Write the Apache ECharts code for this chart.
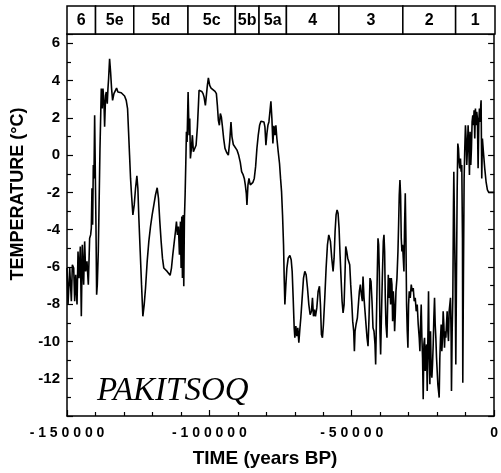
<!DOCTYPE html>
<html>
<head>
<meta charset="utf-8">
<script src="https://cdn.jsdelivr.net/npm/echarts@6/dist/echarts.min.js"></script>
<style>html,body{margin:0;padding:0;background:#fff}#c{width:501px;height:473px}</style>
</head>
<body>
<div id="c"></div>
<script>
// Time (years BP, negative) and temperature (°C)
const years = [
-150000,-149640,-149050,-148470,-148120,-147650,-147300,-146950,-146480,-146130,-145780,-145320,-144970,-144620,-144150,-143800,-143450,-142980,-142510,-142050,-141700,-141460,-141230,-141000,-140760,-140530,-140290,-140060,-139830,-139590,-139360,-139010,-138660,-138420,-138190,-137960,-137610,-137370,-137020,-136790,-136440,-136210,-135860,-135620,-135390,-135040,-134690,-134340,-133990,-133520,-133050,-132590,-132120,-131540,-130950,-130370,-129780,-129200,-128730,-128380,-128030,-127680,-127330,-126860,-126390,-125930,-125460,-125110,-124760,-124290,-123820,-123360,-122890,-122420,-121840,-121260,-120670,-120090,-119500,-118920,-118330,-117870,-117400,-116940,-116470,-116000,-115420,-114830,-114250,-113780,-113310,-112850,-112380,-111910,-111560,-111210,-110860,-110510,-110160,-109930,-109690,-109460,-109220,-108990,-108760,-108520,-108290,-108060,-107830,-107470,-107120,-106890,-106660,-106310,-105960,-105610,-105250,
-104670,-104200,-103850,-103620,-103150,-102680,-102220,-101870,-101400,-101050,-100700,-100350,-99880,-99410,-98710,-98010,-97540,-97190,-96840,-96490,-96140,-95790,-95440,-94980,-94510,-93920,-93340,-92870,-92410,-92060,-91590,-91000,-90300,-89720,-89140,-88670,-88200,-87730,-87380,-87030,-86800,-86450,-86100,-85630,-85160,-84700,-84230,-83760,-83300,-82830,-82360,-81890,-81310,-80840,-80490,-80140,-79790,-79440,-79090,-78740,-78390,-78040,-77690,-77340,-76990,-76640,-76290,-75820,-75360,-75000,-74650,-74300,-73950,-73720,-73480,-73130,-72780,-72320,-71730,-71270,-70920,-70570,-70210,-69980,-69630,-69280,-68930,-68580,-68230,-67880,-67410,-66940,-66480,-66010,-65540,-65070,-64610,-64140,-63790,-63440,-63090,-62740,-62270,-61800,-61340,-60990,-60640,-60290,-59940,-59470,-59000,-58530,-58070,
-57480,-57020,-56550,-56200,-55850,-55500,-55150,-54800,-54450,-54100,-53750,-53390,-53040,-52690,-52340,-52110,-51760,-51410,-51060,-50710,-50360,-50010,-49660,-49310,-49070,-48840,-48490,-48020,-47670,-47320,-46970,-46620,-46270,-46040,-45690,-45340,-44990,-44630,-44280,-43930,-43580,-43230,-42880,-42530,-42180,-41830,-41600,-41360,-41010,-40780,-40550,-40310,-40080,-39850,-39610,-39260,-38910,-38680,-38450,-38210,-37980,-37630,-37390,-37160,-36930,-36690,-36340,-36110,-35880,-35640,-35410,-35170,-34940,-34710,-34470,-34120,-33770,-33540,-33310,-33070,-32840,-32610,-32370,-32140,-31900,-31670,-31440,-31200,-30970,-30740,-30500,-30270,-30040,-29800,-29450,-29100,-28750,-28400,-28050,-27700,-27350,-27000,-26650,-26300,-26060,-25830,-25600,-25360,-25130,-24900,-24660,-24430,-24190,-23960,-23730,-23490,-23260,-23030,-22790,-22560,-22330,-22090,-21860,-21630,-21390,-21160,-20920,-20690,-20460,-20220,-19990,-19760,-19520,-19290,-19060,-18820,-18590,-18360,-18120,-17890,-17650,-17420,-17190,-16950,-16720,-16490,-16250,-16020,-15790,-15550,-15320,-15090,-14970,-14730,-14500,-14270,-14150,-13920,-13680,-13450,-13220,-12980,-12750,-12520,-12280,-12050,-11810,-11580,-11350,-11110,-11000,-10760,-10530,-10300,-10060,-9830,-9600,-9360,-9130,-8890,-8660,-8430,-8190,-7960,-7730,-7490,-7260,-7030,-6790,-6560,-6330,-6090,-5860,-5620,-5390,-5160,-4920,-4690,-4570,-4340,-4110,-3760,-3290,-2820,-2350,-1890,-950,0
];
const temps = [
-6.06,-8.02,-6.06,-7.84,-5.88,-6.06,-7.84,-6.42,-8.02,-5.17,-6.60,-4.90,-8.65,-4.81,-6.95,-4.63,-6.24,-5.70,-6.95,-4.46,-4.28,-3.92,-1.78,-3.74,-0.53,-1.25,2.14,-0.89,-3.74,-7.49,-6.95,-5.17,-1.96,0.36,1.96,3.57,2.50,3.57,2.85,1.52,3.21,3.39,2.76,3.57,4.10,5.17,4.46,3.57,2.94,3.30,3.39,3.60,3.39,3.30,3.35,3.30,3.17,2.94,2.50,1.25,0.00,-1.25,-2.14,-3.21,-2.67,-1.78,-1.11,-1.78,-3.39,-5.17,-6.95,-8.65,-8.02,-7.13,-5.70,-4.63,-3.83,-3.21,-2.67,-2.14,-1.75,-2.32,-3.57,-4.63,-5.53,-6.06,-6.11,-6.24,-6.33,-6.45,-6.06,-5.35,-4.72,-4.10,-3.57,-4.28,-3.83,-5.35,-3.57,-6.06,-3.30,-6.60,-3.21,-7.04,-3.39,-2.14,-0.53,1.25,0.71,3.39,1.07,1.96,-0.18,0.36,1.07,0.18,0.09,
0.53,1.52,2.67,3.48,3.57,3.42,3.30,3.12,2.67,3.21,3.74,4.14,3.74,3.60,3.53,3.42,3.30,2.67,1.87,1.60,2.23,2.05,1.57,0.89,0.36,0.14,0.00,0.71,1.78,0.98,0.57,0.50,0.27,0.00,-0.39,-0.89,-1.03,-1.25,-1.60,-2.05,-2.67,-1.60,-1.25,-1.60,-1.60,-1.46,-1.25,-0.62,0.36,1.07,1.60,1.82,1.89,1.78,1.52,0.53,1.16,1.60,1.78,2.32,2.89,1.96,0.62,1.57,1.07,1.60,0.89,0.18,-0.45,-1.25,-1.96,-3.21,-4.81,-6.60,-8.02,-6.95,-6.06,-5.53,-5.38,-5.61,-6.24,-7.66,-9.27,-9.80,-9.18,-9.71,-9.27,-10.07,-9.36,-8.73,-7.66,-6.60,-6.24,-6.42,-7.13,-8.02,-8.56,-8.38,-7.66,-8.65,-8.29,-8.65,-8.20,-7.31,-7.04,-8.02,-9.63,-9.80,-9.09,-7.66,-6.06,-4.81,-4.28,
-4.63,-5.53,-6.24,-5.53,-4.10,-3.21,-2.94,-3.12,-3.92,-5.35,-6.60,-7.84,-8.47,-8.02,-6.24,-4.90,-5.17,-5.53,-5.44,-5.88,-6.95,-7.84,-8.91,-9.45,-10.52,-9.45,-9.09,-8.73,-8.02,-7.31,-6.95,-7.49,-7.84,-6.51,-7.66,-8.38,-9.09,-9.80,-10.25,-8.73,-6.60,-6.78,-7.84,-9.27,-9.45,-10.16,-11.23,-9.09,-6.24,-4.46,-4.81,-6.24,-9.45,-10.70,-8.91,-6.60,-4.63,-4.28,-5.17,-7.66,-9.09,-9.80,-8.02,-6.42,-7.66,-6.60,-8.02,-6.60,-6.95,-8.91,-7.31,-8.02,-9.45,-8.56,-7.31,-6.60,-5.17,-3.74,-2.14,-1.34,-2.14,-4.46,-5.17,-4.81,-5.53,-6.24,-3.74,-2.05,-4.46,-8.02,-9.45,-10.34,-8.02,-7.31,-7.66,-6.95,-7.31,-7.13,-7.84,-7.66,-8.38,-8.02,-9.09,-9.80,-10.52,-9.09,-8.02,-9.80,-10.87,-13.10,-10.16,-9.80,-11.59,-10.52,-10.16,-12.66,-9.80,-7.31,-10.87,-12.30,-9.45,-11.59,-11.94,-11.23,-10.16,-8.73,-7.66,-9.09,-9.80,-10.87,-11.59,-12.30,-12.66,-13.01,-10.87,-9.80,-9.09,-10.52,-9.80,-8.38,-9.09,-10.34,-9.45,-9.80,-9.09,-8.38,-9.45,-9.98,-8.38,-8.02,-7.66,-9.80,-12.66,-9.45,-7.66,-2.67,-0.89,-3.74,-6.60,-11.23,-6.60,-1.96,0.62,0.36,-0.36,-0.71,-0.18,-0.89,-0.53,-4.46,-12.21,-6.24,-1.25,0.36,1.60,0.89,-0.53,0.36,1.60,0.53,-1.07,1.25,-0.53,0.36,1.78,2.14,1.60,2.41,0.89,2.50,1.60,2.32,1.96,-0.71,1.60,2.50,1.78,2.67,2.94,-1.25,0.89,0.18,-0.71,-1.43,-1.87,-2.00,-2.00,-2.00
];
// Marine isotope stage boundaries (years) and names for the top band
const stageEdges = [-150000,-140000,-126600,-107600,-91000,-82700,-73100,-54700,-32300,-13800,0];
const stageNames = ['6','5e','5d','5c','5b','5a','4','3','2','1'];
// Axis tick settings
const xTickStep = 50000;
const yTickStep = 2;

const FONT = 'Liberation Sans, Arial, sans-serif';
const series = years.map((t, i) => [t, temps[i]]);
const stageData = stageNames.map((n, i) => [stageEdges[i], stageEdges[i + 1]]);

const chart = echarts.init(document.getElementById('c'), null, {renderer: 'canvas'});
chart.setOption({
  animation: false,
  backgroundColor: '#fff',
  grid: [
    {left: 67, right: 6, top: 34, bottom: 56},
    {left: 67, right: 6, top: 6, height: 28}
  ],
  xAxis: [
    {
      type: 'value', gridIndex: 0, min: -150000, max: 0, interval: xTickStep,
      axisLine: {show: true, onZero: false, lineStyle: {color: '#000', width: 1.5}},
      axisTick: {show: true, inside: true, length: 6, lineStyle: {color: '#000', width: 1.2}},
      minorTick: {show: true, splitNumber: 5, length: 4, lineStyle: {color: '#000', width: 1.2}},
      splitLine: {show: false},
      axisLabel: {
        color: '#000', fontFamily: FONT, fontWeight: 'bold', fontSize: 14, margin: 10,
        formatter: v => String(v).split('').join(' ')
      },
      name: 'TIME (years BP)', nameLocation: 'middle', nameGap: 33,
      nameTextStyle: {color: '#000', fontFamily: FONT, fontWeight: 'bold', fontSize: 19, padding: [0, 31, 0, 0]}
    },
    {
      type: 'value', gridIndex: 0, position: 'top', min: -150000, max: 0,
      axisLine: {show: true, onZero: false, lineStyle: {color: '#000', width: 1.5}},
      axisTick: {show: false}, axisLabel: {show: false}, splitLine: {show: false}
    },
    {type: 'value', gridIndex: 1, min: -150000, max: 0, show: false}
  ],
  yAxis: [
    {
      type: 'value', gridIndex: 0, min: -14, max: 6.5, interval: yTickStep,
      axisLine: {show: true, onZero: false, lineStyle: {color: '#000', width: 1.5}},
      axisTick: {show: true, inside: true, length: 6, lineStyle: {color: '#000', width: 1.2}},
      minorTick: {show: true, splitNumber: 2, length: 4, lineStyle: {color: '#000', width: 1.2}},
      splitLine: {show: false},
      axisLabel: {
        color: '#000', fontFamily: FONT, fontWeight: 'bold', fontSize: 15, margin: 7,
        showMinLabel: false, showMaxLabel: false,
        formatter: v => (Number.isInteger(v) && v > -14) ? String(v) : ''
      },
      name: 'TEMPERATURE (°C)', nameLocation: 'middle', nameGap: 33, nameRotate: 90,
      nameTextStyle: {color: '#000', fontFamily: FONT, fontWeight: 'bold', fontSize: 18, padding: [0, 0, 0, 62]}
    },
    {
      type: 'value', gridIndex: 0, position: 'right', min: -14, max: 6.5, interval: yTickStep,
      axisLine: {show: true, onZero: false, lineStyle: {color: '#000', width: 1.5}},
      axisTick: {show: true, inside: true, length: 6, lineStyle: {color: '#000', width: 1.2}},
      minorTick: {show: true, splitNumber: 2, length: 4, lineStyle: {color: '#000', width: 1.2}},
      axisLabel: {show: false}, splitLine: {show: false}
    },
    {type: 'value', gridIndex: 1, min: 0, max: 1, show: false}
  ],
  graphic: [{
    type: 'text', left: 97, top: 375,
    style: {text: 'PAKITSOQ', font: 'italic 33px "Liberation Serif", serif', fill: '#000'}
  }],
  series: [
    {
      type: 'line', xAxisIndex: 0, yAxisIndex: 0, data: series,
      showSymbol: false, symbol: 'none', clip: true,
      lineStyle: {color: '#000', width: 1.6}
    },
    {
      type: 'custom', xAxisIndex: 2, yAxisIndex: 2, data: stageData,
      renderItem: (params, api) => {
        const p0 = api.coord([api.value(0), 1]);
        const p1 = api.coord([api.value(1), 0]);
        return {
          type: 'group',
          children: [
            {type: 'rect', shape: {x: p0[0], y: p0[1], width: p1[0] - p0[0], height: p1[1] - p0[1]},
             style: {fill: '#fff', stroke: '#000', lineWidth: 1.5}},
            {type: 'text', style: {text: stageNames[params.dataIndex], x: (p0[0] + p1[0]) / 2, y: (p0[1] + p1[1]) / 2 + 1,
             align: 'center', verticalAlign: 'middle', font: 'bold 16px ' + FONT, fill: '#000'}}
          ]
        };
      }
    }
  ]
});
</script>
</body>
</html>
